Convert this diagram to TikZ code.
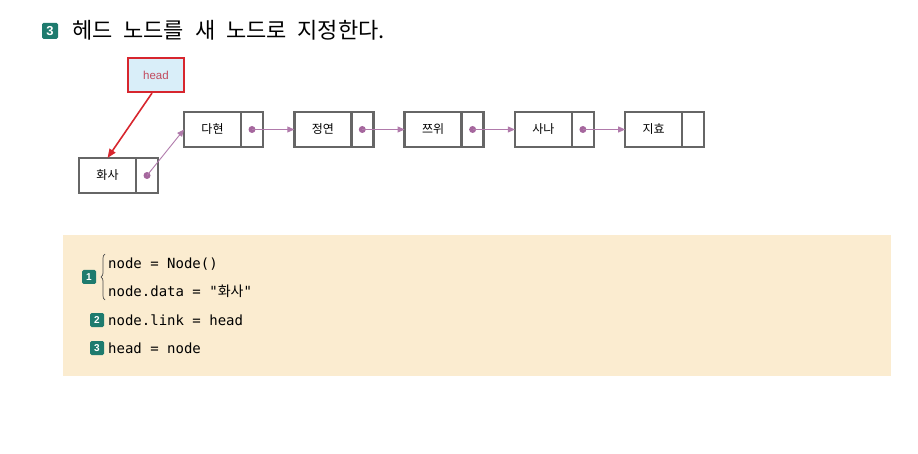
\documentclass[tikz,border=0pt]{standalone}
\usepackage{fontspec}
\setmainfont{Noto Sans CJK KR}
\setmonofont{DejaVu Sans Mono}
\newfontfamily\hangul{Noto Sans CJK KR}
\newfontfamily\titlefont{Noto Sans CJK KR}[WordSpace=2.2]
\newfontfamily\latinsans{Liberation Sans}
\usetikzlibrary{positioning,arrows.meta,decorations.pathreplacing}

\definecolor{boxgray}{HTML}{666666}
\definecolor{linkpink}{HTML}{B07AAB}
\definecolor{dotpurple}{HTML}{A5669D}
\definecolor{headred}{HTML}{D7262E}
\definecolor{headfill}{HTML}{D9EEF9}
\definecolor{headtext}{HTML}{C24A5E}
\definecolor{codefill}{HTML}{FBECD0}
\definecolor{badgegreen}{HTML}{1E7B6E}

\tikzset{
  datapart/.style={draw=boxgray, line width=2.5pt, minimum width=57pt, minimum height=35pt,
    outer sep=0pt, inner sep=0pt, font=\fontsize{12}{14}\selectfont},
  linkpart/.style={draw=boxgray, line width=2.5pt, minimum width=22pt, minimum height=35pt,
    outer sep=0pt, inner sep=0pt},
  linkdot/.style={circle, fill=dotpurple, minimum size=7pt, inner sep=0pt},
  linkarrow/.style={draw=linkpink, line width=0.9pt, -{Triangle[length=7pt,width=6pt]}},
  badge/.style={fill=badgegreen, text=white, rounded corners=1.5pt, inner sep=0pt,
    font=\latinsans\bfseries},
  codeline/.style={anchor=base west, inner sep=0pt, font=\ttfamily\fontsize{14}{16}\selectfont}
}

\begin{document}
\begin{tikzpicture}[x=1pt, y=-1pt]
  \useasboundingbox (0,0) rectangle (918,454);

  % title
  \node[badge, minimum size=16pt, font=\latinsans\bfseries\fontsize{13}{13}\selectfont] (tbadge) at (50,31) {3};
  \node[anchor=base west, inner sep=0pt, font=\titlefont\fontsize{22}{24}\selectfont] (title) at (72,38.5) {헤드 노드를 새 노드로 지정한다.};

  % head pointer
  \node[draw=headred, line width=2.2pt, fill=headfill, minimum width=56pt, minimum height=34pt,
    text=headtext, font=\latinsans\fontsize{11.5}{13}\selectfont] (head) at (156,75) {head};

  % the new node
  \node[datapart] (d0) at (107.5,175.5) {화사};
  \node[linkpart, anchor=west] (l0) at (d0.east) {};
  \node[linkdot] (p0) at (l0.center) {};

  % the old list
  \foreach \name [count=\i] in {다현, 정연, 쯔위, 사나, 지효} {
    \node[datapart] (d\i) at ({212.5+110.3*(\i-1)},129.5) {\name};
    \node[linkpart, anchor=west] (l\i) at (d\i.east) {};
  }
  \foreach \i in {1,...,4} {
    \node[linkdot] (p\i) at (l\i.center) {};
  }
  \foreach \i/\j in {1/2, 2/3, 3/4, 4/5} {
    \draw[linkarrow] (p\i.center) -- (d\j.west);
  }
  \draw[linkarrow] (p0.center) -- (d1.west);
  \draw[headred, line width=1.6pt, -{Triangle[length=9pt,width=7pt]}] ([xshift=-4pt]head.south) -- (d0.north);

  % code
  \fill[codefill] (63,235) rectangle (891,376);
  \node[badge, minimum size=14pt, font=\latinsans\bfseries\fontsize{10}{10}\selectfont] (b1) at (89,277) {1};
  \draw[black!70, line width=0.7pt, decorate, decoration={brace, amplitude=4pt}] (105,300) -- (105,254);
  \node[codeline] (c1) at (108,269) {node = Node()};
  \node[codeline] (c2) at (108,297) {node.data = "{\hangul 화사}"};
  \node[badge, minimum size=14pt, font=\latinsans\bfseries\fontsize{10}{10}\selectfont] (b2) at (97,320) {2};
  \node[codeline] (c3) at (108,325) {node.link = head};
  \node[badge, minimum size=14pt, font=\latinsans\bfseries\fontsize{10}{10}\selectfont] (b3) at (97,348) {3};
  \node[codeline] (c4) at (108,353) {head = node};
\end{tikzpicture}
\end{document}
